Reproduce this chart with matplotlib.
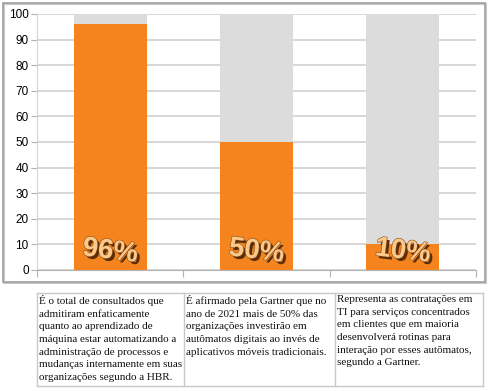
import matplotlib.pyplot as plt
import matplotlib.patheffects as pe
from matplotlib.patches import Rectangle
from matplotlib.lines import Line2D

# data
categories = ["HBR", "Gartner 2021", "Gartner TI"]
values = [96, 50, 10]
labels = ["96%", "50%", "10%"]
descriptions = [
    "É o total de consultados que\nadmitiram enfaticamente\nquanto ao aprendizado de\n"
    "máquina estar automatizando a\nadministração de processos e\n"
    "mudanças internamente em suas\norganizações segundo a HBR.",
    "É afirmado pela Gartner que no\nano de 2021 mais de 50% das\norganizações investirão em\n"
    "autômatos digitais ao invés de\naplicativos móveis tradicionais.",
    "Representa as contratações em\nTI para serviços concentrados\nem clientes que em maioria\n"
    "desenvolverá rotinas para\ninteração por esses autômatos,\nsegundo a Gartner.",
]

W, H = 500, 391
orange = "#f5841f"
grey = "#dcdcdc"

fig = plt.figure(figsize=(W / 100, H / 100), dpi=100)

def fx(px):
    return px / W

def fy(py):
    return 1 - py / H

# outer frame of the chart (with a faint shadow on right/bottom)
fig.add_artist(Rectangle((fx(4), fy(283)), fx(482), 279 / H, transform=fig.transFigure,
                         fill=False, edgecolor="#c8c8c8", lw=1.5))
fig.add_artist(Rectangle((fx(3), fy(282)), fx(482), 279 / H, transform=fig.transFigure,
                         fill=False, edgecolor="#a0a0a0", lw=1.2))

ax = fig.add_axes([fx(37), fy(270), fx(439), (270 - 14) / H])
x = range(len(values))
rest = [100 - v for v in values]
ax.bar(x, values, width=0.5, color=orange, zorder=2)
ax.bar(x, rest, bottom=values, width=0.5, color=grey, zorder=2)

for i, lab in enumerate(labels):
    ax.text(i, 7.2, lab, ha="center", va="center", fontsize=20, fontweight="bold",
            family="Liberation Sans", color="#fbc98c", rotation=-7, zorder=3,
            path_effects=[pe.withSimplePatchShadow(offset=(2, -2), shadow_rgbFace="#5a2e08", alpha=1),
                          pe.Stroke(linewidth=0.8, foreground="#8a4a12"), pe.Normal()])

ax.set_xlim(-0.5, 2.5)
ax.set_ylim(0, 100)
ax.set_yticks(range(0, 101, 10))
ax.set_xticks([-0.5, 0.5, 1.5, 2.5])
ax.set_xticklabels([])
ax.yaxis.grid(True, color="#d4d4d4", lw=1.3, zorder=0)
ax.set_axisbelow(True)
for s in ["top", "right"]:
    ax.spines[s].set_visible(False)
ax.spines["left"].set_color("#d4d4d4")
ax.spines["bottom"].set_color("#b3b3b3")
ax.tick_params(axis="y", length=4, color="#b3b3b3", labelsize=8.5, pad=2)
ax.tick_params(axis="x", length=5, color="#b3b3b3")
for t in ax.get_yticklabels():
    t.set_family("Liberation Sans")

# table below the chart
cols = [37, 184, 335, 483]
top, bottom = 293, 386
tc = "#c8c8c8"
fig.add_artist(Line2D([fx(cols[0]), fx(cols[-1])], [fy(top), fy(top)], color=tc, lw=1))
fig.add_artist(Line2D([fx(cols[0]), fx(cols[-1])], [fy(bottom), fy(bottom)], color=tc, lw=1))
for c in cols:
    fig.add_artist(Line2D([fx(c), fx(c)], [fy(top), fy(bottom)], color=tc, lw=1))
for i, d in enumerate(descriptions):
    fig.text(fx(cols[i] + 2), fy(295), d, ha="left", va="top", fontsize=8.0,
             family="Liberation Serif", linespacing=1.52, color="#111111")

fig.savefig("out.png", dpi=100)
